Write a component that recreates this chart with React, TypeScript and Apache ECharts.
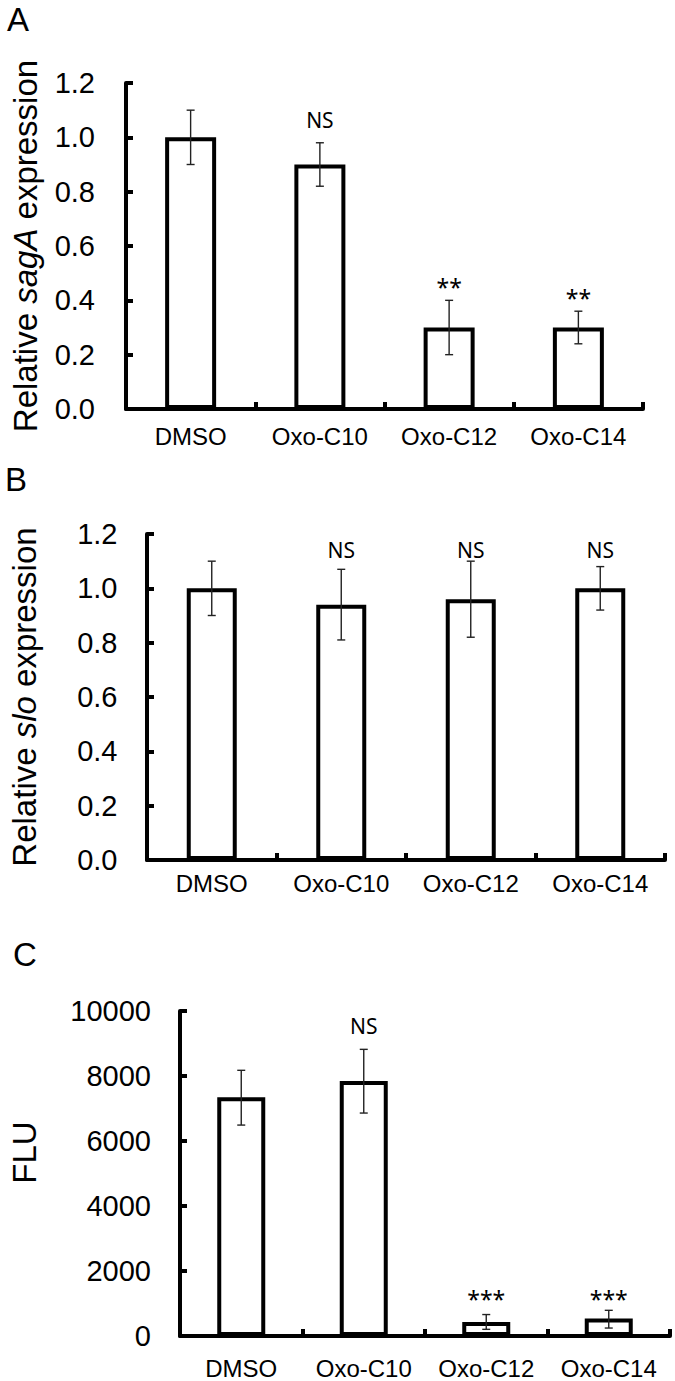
import React, { useEffect, useRef } from 'react';
import * as echarts from 'echarts';

// ---- data ----
const categories = ['DMSO', 'Oxo-C10', 'Oxo-C12', 'Oxo-C14'];

// Panel A: relative sagA expression
const sagA = [1.0, 0.9, 0.3, 0.3];
const sagALow = [0.9, 0.82, 0.2, 0.24];
const sagAHigh = [1.1, 0.98, 0.4, 0.36];
const sagAMarks = ['', 'NS', '**', '**'];
const sagAMarkY = [null, 1.062, 0.467, 0.427];

// Panel B: relative slo expression
const slo = [1.0, 0.94, 0.96, 1.0];
const sloLow = [0.9, 0.81, 0.82, 0.92];
const sloHigh = [1.1, 1.07, 1.1, 1.08];
const sloMarks = ['', 'NS', 'NS', 'NS'];
const sloMarkY = [null, 1.141, 1.141, 1.141];

// Panel C: FLU
const flu = [7350, 7850, 430, 535];
const fluLow = [6490, 6860, 205, 245];
const fluHigh = [8175, 8820, 660, 790];
const fluMarks = ['', 'NS', '***', '***'];
const fluMarkY = [null, 9545, 1283, 1283];

const ratioMin = 0;
const ratioMax = 1.2;
const ratioStep = 0.2;
const fluMin = 0;
const fluMax = 10000;
const fluStep = 2000;

const panelLetters = ['A', 'B', 'C'];

const SANS = '"Liberation Sans", Arial, sans-serif';
const NOTO = '"Noto Sans", sans-serif';

export default function App() {
  const ref = useRef<HTMLDivElement>(null);

  useEffect(() => {
    if (!ref.current) return;
    const chart = echarts.init(ref.current, null, { renderer: 'svg' });

    const panels = [
      {
        values: sagA, low: sagALow, high: sagAHigh, marks: sagAMarks, markY: sagAMarkY,
        min: ratioMin, max: ratioMax, step: ratioStep, decimals: 1,
        name: '{n|Relative }{i|sagA}{n| expression}', nameGap: 84, namePad: [0, 0, 0, 0],
        grid: { left: 126, top: 83, width: 517, height: 326 },
        barWidth: 51, catMargin: 15.5, valMargin: 31,
      },
      {
        values: slo, low: sloLow, high: sloHigh, marks: sloMarks, markY: sloMarkY,
        min: ratioMin, max: ratioMax, step: ratioStep, decimals: 1,
        name: '{n|Relative }{i|slo}{n| expression}', nameGap: 106, namePad: [0, 0, 0, 0],
        grid: { left: 147, top: 534, width: 518, height: 326 },
        barWidth: 50, catMargin: 11.5, valMargin: 29.5,
      },
      {
        values: flu, low: fluLow, high: fluHigh, marks: fluMarks, markY: fluMarkY,
        min: fluMin, max: fluMax, step: fluStep, decimals: 0,
        name: '{n|FLU}', nameGap: 139, namePad: [0, 0, 0, 42],
        grid: { left: 174, top: 1011, width: 496, height: 325 },
        barWidth: 48, catMargin: 20.5, valMargin: 29,
      },
    ];

    const grids: any[] = [];
    const xAxes: any[] = [];
    const yAxes: any[] = [];
    const series: any[] = [];

    panels.forEach((p, i) => {
      grids.push({ ...p.grid, containLabel: false });
      xAxes.push({
        type: 'category',
        gridIndex: i,
        data: categories,
        boundaryGap: true,
        axisLine: { show: true, lineStyle: { color: '#000', width: 4 } },
        axisTick: { show: true, inside: true, length: 7, lineStyle: { color: '#000', width: 4 } },
        axisLabel: { color: '#000', fontSize: 24, fontFamily: SANS, margin: p.catMargin, interval: 0 },
        splitLine: { show: false },
      });
      yAxes.push({
        type: 'value',
        gridIndex: i,
        min: p.min,
        max: p.max,
        interval: p.step,
        name: p.name,
        nameLocation: 'middle',
        nameRotate: 90,
        nameGap: p.nameGap,
        nameTextStyle: {
          color: '#000',
          fontSize: 33,
          fontFamily: SANS,
          padding: p.namePad,
          rich: {
            n: { color: '#000', fontSize: 33, fontFamily: SANS },
            i: { color: '#000', fontSize: 33, fontFamily: SANS, fontStyle: 'italic' },
          },
        },
        axisLine: { show: true, lineStyle: { color: '#000', width: 4 } },
        axisTick: { show: true, inside: true, length: 7, lineStyle: { color: '#000', width: 4 } },
        axisLabel: {
          color: '#000',
          fontSize: 29,
          fontFamily: SANS,
          margin: p.valMargin,
          formatter: (v: number) => v.toFixed(p.decimals),
        },
        splitLine: { show: false },
      });

      series.push({
        type: 'bar',
        xAxisIndex: i,
        yAxisIndex: i,
        data: p.values,
        barWidth: p.barWidth,
        itemStyle: { color: '#fff', borderColor: '#000', borderWidth: 4 },
        z: 2,
      });

      series.push({
        type: 'custom',
        xAxisIndex: i,
        yAxisIndex: i,
        z: 5,
        data: categories.map((_, k) => [k, p.low[k], p.high[k]]),
        renderItem: (params: any, api: any) => {
          const lo = api.coord([api.value(0), api.value(1)]);
          const hi = api.coord([api.value(0), api.value(2)]);
          const cap = 4;
          const st = { stroke: '#222', lineWidth: 1.4 };
          return {
            type: 'group',
            children: [
              { type: 'line', shape: { x1: lo[0], y1: lo[1], x2: hi[0], y2: hi[1] }, style: st },
              { type: 'line', shape: { x1: lo[0] - cap, y1: lo[1], x2: lo[0] + cap, y2: lo[1] }, style: st },
              { type: 'line', shape: { x1: hi[0] - cap, y1: hi[1], x2: hi[0] + cap, y2: hi[1] }, style: st },
            ],
          };
        },
      });

      series.push({
        type: 'custom',
        xAxisIndex: i,
        yAxisIndex: i,
        z: 6,
        data: categories
          .map((_, k) => (p.marks[k] ? [k, p.markY[k]] : null))
          .filter((d) => d !== null),
        renderItem: (params: any, api: any) => {
          const idx = api.value(0);
          const pt = api.coord([idx, api.value(1)]);
          const txt = p.marks[idx];
          const star = txt.indexOf('*') >= 0;
          return {
            type: 'text',
            x: pt[0],
            y: pt[1] + (star ? 5 : 0),
            style: {
              text: txt,
              fontSize: star ? 23 : 21,
              fontFamily: NOTO,
              fill: '#000',
              textAlign: 'center',
              textVerticalAlign: 'middle',
              align: 'center',
              verticalAlign: 'middle',
            },
          };
        },
      });
    });

    const letterPos = [
      { left: 7, top: 3 },
      { left: 5, top: 463 },
      { left: 13, top: 938 },
    ];

    chart.setOption({
      animation: false,
      backgroundColor: '#fff',
      grid: grids,
      xAxis: xAxes,
      yAxis: yAxes,
      series,
      graphic: panelLetters.map((t, i) => ({
        type: 'text',
        left: letterPos[i].left,
        top: letterPos[i].top,
        style: { text: t, fontSize: 33, fontFamily: SANS, fill: '#000' },
      })),
    });

    return () => chart.dispose();
  }, []);

  return (
    <div
      ref={ref}
      style={{ position: 'absolute', left: 0, top: 0, width: 675, height: 1381, background: '#fff' }}
    />
  );
}
